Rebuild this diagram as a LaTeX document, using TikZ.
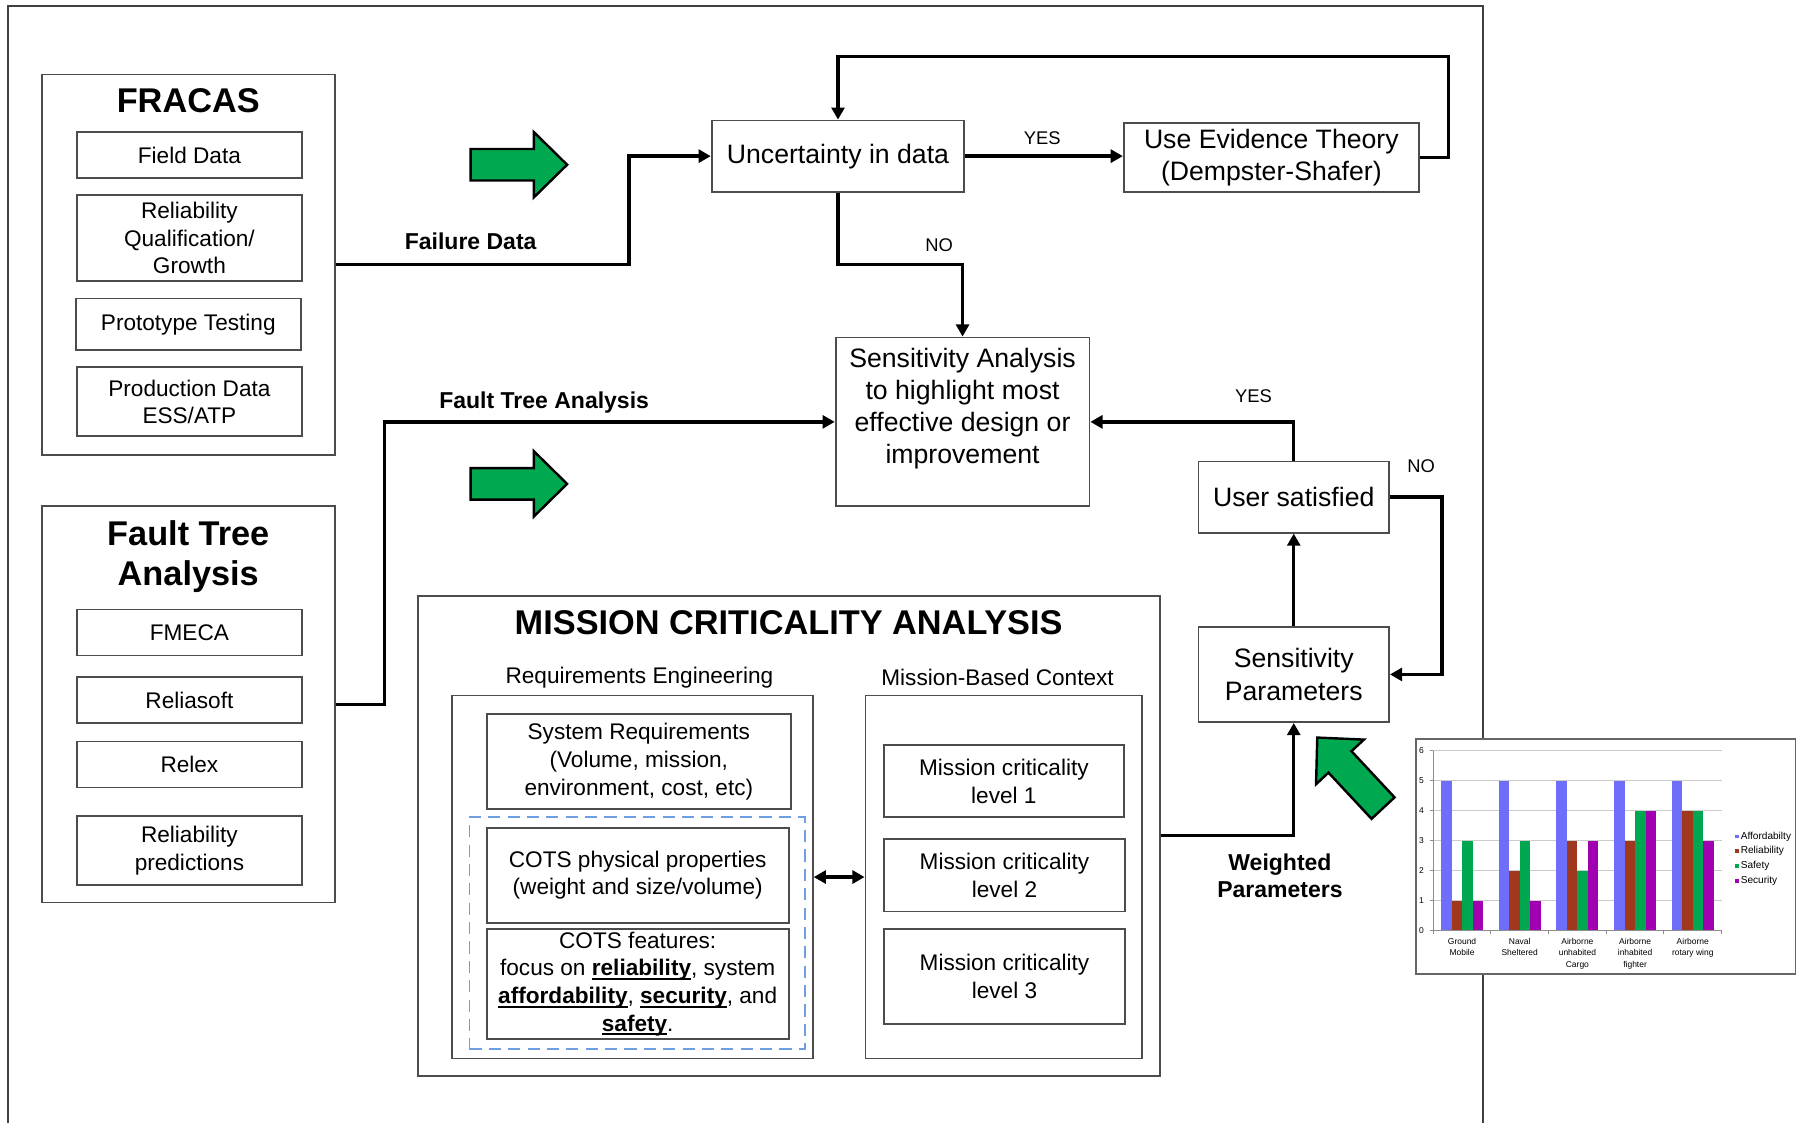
\documentclass[tikz,border=0pt]{standalone}
\usepackage{fontspec}
\setmainfont{Liberation Sans}
\usetikzlibrary{arrows.meta}

\definecolor{arrowgreen}{RGB}{0,168,80}
\definecolor{afford}{RGB}{110,110,250}
\definecolor{relcol}{RGB}{160,56,30}
\definecolor{safecol}{RGB}{0,166,80}
\definecolor{seccol}{RGB}{160,0,175}
\definecolor{dashblue}{RGB}{110,160,225}

\newcommand{\boxtext}{\fontsize{6.6pt}{7.97pt}\selectfont}
\newcommand{\smalltext}{\fontsize{5.6pt}{6.83pt}\selectfont}
\newcommand{\titletext}{\fontsize{8.5pt}{9.96pt}\selectfont\bfseries}
\newcommand{\flowtext}{\fontsize{5.7pt}{6.83pt}\selectfont\bfseries}
\newcommand{\yesnotext}{\fontsize{4.55pt}{5.5pt}\selectfont}
\newcommand{\charttext}{\fontsize{2.1pt}{2.85pt}\selectfont}
\newcommand{\legendtext}{\fontsize{2.5pt}{3pt}\selectfont}
% bold word with a rule just under the baseline
\newcommand{\keyword}[1]{\begingroup\setbox0=\hbox{\textbf{#1}}\rlap{\vrule height -0.11em depth 0.19em width \wd0}\box0\endgroup}

% block arrow: tip x, tip y, angle
\newcommand{\greenarrow}[3]{\draw[bigarrow, shift={(#1,#2)}, rotate=#3] (0,0) -- (-29,28.5) -- (-29,13.7) -- (-84,13.7) -- (-84,-13.7) -- (-29,-13.7) -- (-29,-28.5) -- cycle;}

\begin{document}
\begin{tikzpicture}[x=0.01cm, y=-0.01cm,
    box/.style={draw=black!70, line width=0.45pt, inner sep=0pt, align=center, font=\smalltext},
    bigbox/.style={box, font=\boxtext},
    groupframe/.style={draw=black!70, line width=0.45pt, inner sep=0pt},
    grouptitle/.style={font=\titletext, align=center, inner sep=0pt},
    dashbox/.style={draw=dashblue, dash pattern=on 3pt off 1.8pt, line width=0.45pt, inner sep=0pt},
    flow/.style={line width=0.85pt, -{Triangle[length=3pt,width=3.2pt]}},
    flowboth/.style={line width=0.85pt, {Triangle[length=3pt,width=3.2pt]}-{Triangle[length=3pt,width=3.2pt]}},
    lbl/.style={font=\flowtext, align=center, inner sep=0pt},
    yesno/.style={font=\yesnotext, inner sep=0pt},
    bigarrow/.style={fill=arrowgreen, draw=black, line width=0.6pt},
    charttxt/.style={font=\charttext, inner sep=0pt}]
    \useasboundingbox (0,0) rectangle (1568,978);

    % outer frame
    \draw[draw=black!75, line width=0.5pt] (7,985) -- (7,5) -- (1292,5) -- (1292,985);

    % FRACAS
    \node[groupframe, minimum width=2.55cm, minimum height=3.31cm] (fracas) at (164.5,230.5) {};
    \node[grouptitle] (fracastitle) at (164,88) {FRACAS};
    \node[box, minimum width=1.96cm, minimum height=0.40cm] (field) at (165,135) {Field Data};
    \node[box, minimum width=1.96cm, minimum height=0.75cm] (relqual) at (165,207.5) {Reliability\\Qualification/\\Growth};
    \node[box, minimum width=1.96cm, minimum height=0.45cm] (proto) at (164,282.5) {Prototype Testing};
    \node[box, minimum width=1.96cm, minimum height=0.60cm] (prod) at (165,350) {Production Data\\ESS/ATP};

    % Fault Tree Analysis
    \node[groupframe, minimum width=2.55cm, minimum height=3.45cm] (fta) at (164.5,613.5) {};
    \node[grouptitle] (ftatitle) at (164,485) {Fault Tree\\Analysis};
    \node[box, minimum width=1.96cm, minimum height=0.40cm] (fmeca) at (165,551) {FMECA};
    \node[box, minimum width=1.96cm, minimum height=0.40cm] (reliasoft) at (165,610) {Reliasoft};
    \node[box, minimum width=1.96cm, minimum height=0.40cm] (relex) at (165,666) {Relex};
    \node[box, minimum width=1.96cm, minimum height=0.60cm] (relpred) at (165,741) {Reliability\\predictions};

    % decision flow
    \node[bigbox, minimum width=2.20cm, minimum height=0.62cm] (unc) at (730,136) {Uncertainty in data};
    \node[bigbox, minimum width=2.57cm, minimum height=0.60cm] (evid) at (1107.5,137) {Use Evidence Theory\\(Dempster-Shafer)};
    \node[bigbox, minimum width=2.21cm, minimum height=1.47cm] (sens) at (838.5,367.5) {Sensitivity Analysis\\to highlight most\\effective design or\\improvement\\\mbox{}};
    \node[bigbox, minimum width=1.66cm, minimum height=0.62cm] (user) at (1127,433) {User satisfied};
    \node[bigbox, minimum width=1.66cm, minimum height=0.83cm] (params) at (1127,587.5) {Sensitivity\\Parameters};

    % Mission criticality analysis
    \node[groupframe, minimum width=6.46cm, minimum height=4.18cm] (mca) at (687,728) {};
    \node[grouptitle] (mcatitle) at (687,542) {MISSION CRITICALITY ANALYSIS};
    \node[font=\smalltext, inner sep=0pt] (reqtitle) at (557,590) {Requirements Engineering};
    \node[font=\smalltext, inner sep=0pt] (mbctitle) at (869,590) {Mission-Based Context};
    \node[groupframe, minimum width=3.14cm, minimum height=3.16cm] (req) at (551,764) {};
    \node[groupframe, minimum width=2.41cm, minimum height=3.16cm] (mbc) at (874.5,764) {};
    \node[box, minimum width=2.65cm, minimum height=0.83cm] (sysreq) at (556.5,663.5) {System Requirements\\(Volume, mission,\\environment, cost, etc)};
    \node[dashbox, minimum width=2.92cm, minimum height=2.02cm] (cots) at (555,813) {};
    \node[box, minimum width=2.63cm, minimum height=0.83cm] (cotsphys) at (555.5,762.5) {COTS physical properties\\(weight and size/volume)};
    \node[box, minimum width=2.63cm, minimum height=0.96cm] (cotsfeat) at (555.5,857) {COTS features:\\focus on \keyword{reliability}, system\\\keyword{affordability}, \keyword{security}, and\\\keyword{safety}.};
    \node[box, minimum width=2.09cm, minimum height=0.63cm] (level1) at (874.5,680.5) {Mission criticality\\level 1};
    \node[box, minimum width=2.10cm, minimum height=0.63cm] (level2) at (875,762.5) {Mission criticality\\level 2};
    \node[box, minimum width=2.10cm, minimum height=0.83cm] (level3) at (875,850.5) {Mission criticality\\level 3};

    % connectors
    \draw[flow] (fracas.east) -- (548,230.5) |- (unc.west);
    \node[lbl] (faillbl) at (410,210) {Failure Data};
    \draw[flow] (unc.east) -- (evid.west |- unc.east);
    \node[yesno] (yesevid) at (908,120) {YES};
    \draw[flow] (evid.east) -| (1262,49) -| (unc.north);
    \draw[flow] (unc.south) |- (838.5,230.5) -- (sens.north);
    \node[yesno] (nounc) at (818,214) {NO};
    \draw[flow] (fta.east) -- (335,613.5) |- (sens.west);
    \node[lbl] (ftalbl) at (474,351) {Fault Tree Analysis};
    \draw[flow] (user.north) |- (sens.east);
    \node[yesno] (yesuser) at (1092,345) {YES};
    \draw[flow] (user.east) -- (1256,433) |- (params.east);
    \node[yesno] (nouser) at (1238,406) {NO};
    \draw[flow] (params.north) -- (user.south);
    \draw[flow] (mca.east) -| (params.south);
    \node[lbl] (weightlbl) at (1115,763) {Weighted\\Parameters};
    \draw[flowboth] (req.east) -- (mbc.west);

    % green arrows
    \greenarrow{494}{143.5}{0}
    \greenarrow{494}{421.5}{0}
    \greenarrow{1147.5}{642.5}{133}

    % bar chart
    \draw[fill=white, draw=black!60, line width=0.4pt] (1233.6,643.7) rectangle (1564,848.5);
    \foreach \k in {1,...,6}
        \draw[black!20, line width=0.2pt] (1248.5,{810.7-26.13*\k}) -- (1499.7,{810.7-26.13*\k});
    \foreach \pa/\pb/\pc/\pd [count=\i from 0] in {5/1/3/1, 5/2/3/1, 5/3/2/3, 5/3/4/4, 5/4/4/3}
        \foreach \v/\c [count=\j from 0] in {\pa/afford, \pb/relcol, \pc/safecol, \pd/seccol}
            \fill[\c] ({1248.5+50.24*\i+6.8+9.15*\j},810.7) rectangle ++(9.15,{-26.13*\v});
    \draw[black!45, line width=0.25pt] (1248.5,653.9) -- (1248.5,810.7) -- (1499.7,810.7);
    \foreach \k in {0,...,6} {
        \draw[black!45, line width=0.25pt] (1246,{810.7-26.13*\k}) -- (1248.5,{810.7-26.13*\k});
        \node[charttxt, anchor=east] (ytick\k) at (1241,{810.7-26.13*\k}) {\k};
    }
    \foreach \i in {0,...,5}
        \draw[black!45, line width=0.25pt] ({1248.5+50.24*\i},810.7) -- ++(0,3);
    \foreach \lab [count=\i from 0] in {{Ground\\Mobile},{Naval\\Sheltered},{Airborne\\unhabited\\Cargo},{Airborne\\inhabited\\fighter},{Airborne\\rotary wing}}
        \node[charttxt, align=center, anchor=north] (cat\i) at ({1248.5+50.24*\i+25.12},816.5) {\lab};
    \foreach \nm/\c [count=\k from 0] in {Affordabilty/afford, Reliability/relcol, Safety/safecol, Security/seccol} {
        \fill[\c] (1511.5,{727+12.8*\k}) rectangle ++(3.4,3.4);
        \node[font=\legendtext, inner sep=0pt, anchor=west] (leg\k) at (1515.7,{728.8+12.8*\k}) {\nm};
    }
\end{tikzpicture}
\end{document}
